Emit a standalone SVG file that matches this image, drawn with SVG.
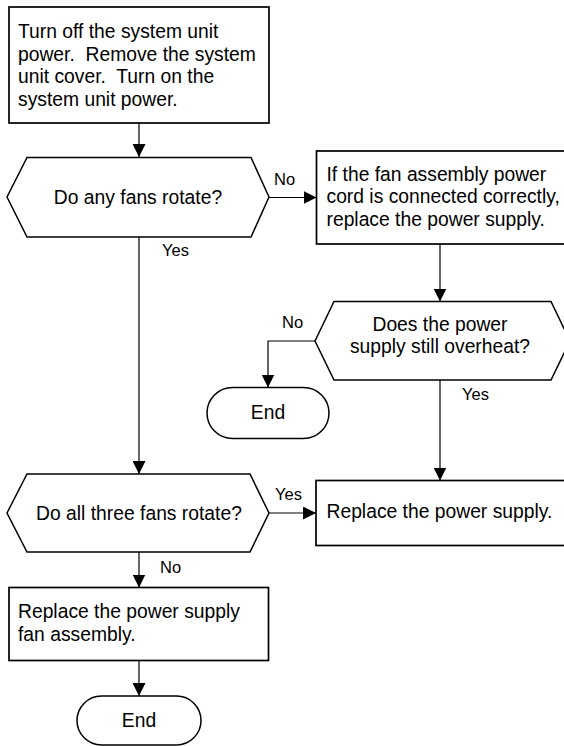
<svg xmlns="http://www.w3.org/2000/svg" width="564" height="746" viewBox="0 0 564 746">
<style>
.box{fill:#fff;stroke:#000;stroke-width:1.7}
.hex{fill:#fff;stroke:#000;stroke-width:1.5}
.term{fill:#fff;stroke:#000;stroke-width:1.5}
.t{font-family:"Liberation Sans",Arial,sans-serif;font-size:19.3px;fill:#000;white-space:pre}
.c{text-anchor:middle}
.lbl{font-family:"Liberation Sans",Arial,sans-serif;font-size:16.5px;fill:#000}
.edge{fill:none;stroke:#000;stroke-width:1.2}
</style>
<defs>
<marker id="ah" viewBox="0 0 13 13" refX="13" refY="6.5" markerWidth="13" markerHeight="13" orient="auto" markerUnits="userSpaceOnUse">
<path d="M0,0 L13,6.5 L0,13 z" fill="#000"/>
</marker>
</defs>
<rect width="564" height="746" fill="#fff"/>
<g id="connectors">
<line class="edge" x1="139" y1="123" x2="139" y2="157" marker-end="url(#ah)"/>
<line class="edge" x1="269" y1="197.5" x2="316.5" y2="197.5" marker-end="url(#ah)"/>
<line class="edge" x1="440" y1="244" x2="440" y2="301.5" marker-end="url(#ah)"/>
<polyline class="edge" points="315,341 268,341 268,387.5" marker-end="url(#ah)"/>
<line class="edge" x1="440" y1="380" x2="440" y2="480.5" marker-end="url(#ah)"/>
<line class="edge" x1="139" y1="237" x2="139" y2="474" marker-end="url(#ah)"/>
<line class="edge" x1="269" y1="513" x2="316" y2="513" marker-end="url(#ah)"/>
<line class="edge" x1="139" y1="552" x2="139" y2="587.5" marker-end="url(#ah)"/>
<line class="edge" x1="139" y1="660.5" x2="139" y2="696" marker-end="url(#ah)"/>
<text class="lbl" x="274" y="185">No</text>
<text class="lbl" x="162" y="256">Yes</text>
<text class="lbl" x="282" y="328">No</text>
<text class="lbl" x="462" y="400">Yes</text>
<text class="lbl" x="275" y="500">Yes</text>
<text class="lbl" x="160" y="573">No</text>
</g>
<g id="start">
<rect class="box" x="9" y="7" width="260" height="116"/>
<text class="t" x="18" y="38">Turn off the system unit</text>
<text class="t" x="18" y="60.6">power.  Remove the system</text>
<text class="t" x="18" y="83.2">unit cover.  Turn on the</text>
<text class="t" x="18" y="105.8">system unit power.</text>
</g>
<g id="q1">
<polygon class="hex" points="7,197 27,157.5 251,157.5 269,197 251,237 27,237"/>
<text class="t c" x="138" y="203.5">Do any fans rotate?</text>
</g>
<g id="check-cord">
<rect class="box" x="316.5" y="151" width="260" height="93"/>
<text class="t" x="326.5" y="180.5">If the fan assembly power</text>
<text class="t" x="326.5" y="203.3">cord is connected correctly,</text>
<text class="t" x="326.5" y="226">replace the power supply.</text>
</g>
<g id="q-overheat">
<polygon class="hex" points="315,341 334,301.5 551,301.5 570,341 551,380 334,380"/>
<text class="t c" x="440" y="330.5">Does the power</text>
<text class="t c" x="440" y="353.3">supply still overheat?</text>
</g>
<g id="end1">
<rect class="term" x="207" y="387.5" width="122" height="51" rx="25.5" ry="25.5"/>
<text class="t c" x="268" y="418.5">End</text>
</g>
<g id="q2">
<polygon class="hex" points="7,513 27,474 250,474 269,513 250,552 27,552"/>
<text class="t c" x="139" y="519.5">Do all three fans rotate?</text>
</g>
<g id="replace-ps">
<rect class="box" x="316" y="480.5" width="260" height="65"/>
<text class="t" x="326.5" y="517.5">Replace the power supply.</text>
</g>
<g id="replace-fan">
<rect class="box" x="9" y="587.5" width="259.5" height="73"/>
<text class="t" x="18" y="618">Replace the power supply</text>
<text class="t" x="18" y="640.5">fan assembly.</text>
</g>
<g id="end2">
<rect class="term" x="77" y="696" width="124" height="49" rx="24.5" ry="24.5"/>
<text class="t c" x="139" y="727">End</text>
</g>
</svg>
